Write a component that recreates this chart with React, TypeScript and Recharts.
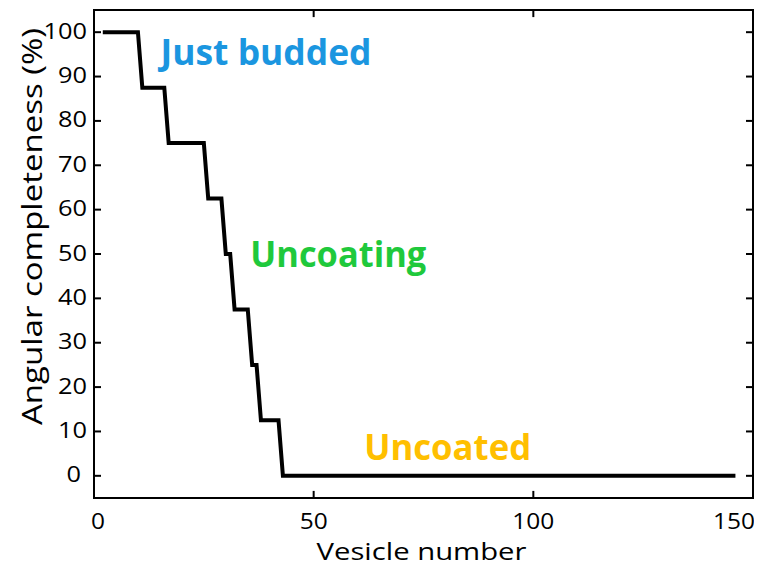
import React from "react";
import {
  LineChart,
  Line,
  XAxis,
  YAxis,
  ReferenceArea,
  ReferenceLine,
  ReferenceDot,
} from "recharts";

// Coat completeness per vesicle, stored as runs: each run starts at a vesicle
// number and holds one completeness level until the next run begins.
const runStartVesicle = [2, 11, 17, 26, 30, 32, 36, 38, 43];
const runCompleteness = [100, 87.5, 75, 62.5, 50, 37.5, 25, 12.5, 0];
const lastVesicle = 146;

const xTicks = [0, 50, 100, 150];
const yTicks = [0, 10, 20, 30, 40, 50, 60, 70, 80, 90, 100];
const xDomain: [number, number] = [0, 150];
const yDomain: [number, number] = [-5, 105];

const stageNames = ["Just budded", "Uncoating", "Uncoated"];
const stageVesicle = [39.15, 55.6, 80.5];
const stageCompleteness = [95.4, 49.9, 6.45];
const stageColors = ["#1b96e0", "#1fc93c", "#ffbf00"];
const stageWidths = [211, 176, 167];

const data: { vesicle: number; completeness: number }[] = [];
for (let v = runStartVesicle[0]; v <= lastVesicle; v++) {
  let run = 0;
  for (let i = 0; i < runStartVesicle.length; i++) {
    if (runStartVesicle[i] <= v) run = i;
  }
  data.push({ vesicle: v, completeness: runCompleteness[run] });
}

const FONT = "'Open Sans', 'Noto Sans', sans-serif";
const TICK_LEN_X = 1.6; // inward tick length in vesicle units
const TICK_LEN_Y = 1.6; // inward tick length in percent units

const XTick = (props: any) => {
  const { x, y, payload } = props;
  const v = payload.value;
  const s = String(v);
  let shift = 0;
  if (v === xDomain[0]) shift = 4;
  if (v === xDomain[1]) shift = -19;
  return (
    <text
      x={x + shift}
      y={y + 23.3}
      textAnchor="middle"
      fontFamily={FONT}
      fontSize={21}
      fill="#000"
      textLength={s.length * 14}
      lengthAdjust="spacingAndGlyphs"
    >
      {s}
    </text>
  );
};

const YTick = (props: any) => {
  const { y, payload } = props;
  const v = payload.value;
  const s = String(v);
  const right = v === 0 ? 73 : 79;
  return (
    <text
      x={right}
      y={y + 6.5}
      textAnchor="end"
      fontFamily={FONT}
      fontSize={21}
      fill="#000"
      textLength={s.length * 14.5}
      lengthAdjust="spacingAndGlyphs"
    >
      {s}
    </text>
  );
};

const XTitle = (props: any) => {
  const vb = props.viewBox;
  return (
    <text
      x={vb.x + vb.width / 2 - 2}
      y={vb.y + 61.8}
      textAnchor="middle"
      fontFamily={FONT}
      fontSize={24}
      fill="#000"
      textLength={210}
      lengthAdjust="spacingAndGlyphs"
    >
      Vesicle number
    </text>
  );
};

const YTitle = (props: any) => {
  const vb = props.viewBox;
  const cx = 33.5;
  const cy = vb.y + 216.5;
  return (
    <text
      x={cx}
      y={cy}
      transform={`rotate(-90 ${cx} ${cy})`}
      textAnchor="middle"
      fontFamily={FONT}
      fontSize={28}
      fill="#000"
      textLength={397}
      lengthAdjust="spacingAndGlyphs"
    >
      Angular completeness (%)
    </text>
  );
};

const stageLabel = (i: number) => (props: any) => {
  const vb = props.viewBox;
  const cx = vb.x + (vb.width || 0) / 2;
  const cy = vb.y + (vb.height || 0) / 2;
  return (
    <text
      x={cx}
      y={cy}
      dy="0.357em"
      textAnchor="middle"
      fontFamily={FONT}
      fontWeight={700}
      fontSize={35}
      fill={stageColors[i]}
      textLength={stageWidths[i]}
      lengthAdjust="spacingAndGlyphs"
    >
      {stageNames[i]}
    </text>
  );
};

export default function App() {
  const innerX = xTicks.filter((t) => t > xDomain[0] && t < xDomain[1]);
  const innerY = yTicks.filter((t) => t > yDomain[0] && t < yDomain[1]);
  return (
    <div style={{ width: 754, height: 566 }}>
      <LineChart
        width={754}
        height={566}
        data={data}
        margin={{ top: 2, right: 9, bottom: 0, left: 0 }}
      >
        <XAxis
          dataKey="vesicle"
          type="number"
          domain={xDomain}
          ticks={xTicks}
          interval={0}
          allowDataOverflow
          height={76}
          axisLine={false}
          tickLine={false}
          tick={(p: any) => <XTick {...p} />}
          label={{ content: (p: any) => <XTitle {...p} /> }}
        />
        <YAxis
          type="number"
          domain={yDomain}
          ticks={yTicks}
          interval={0}
          allowDataOverflow
          width={86}
          axisLine={false}
          tickLine={false}
          tick={(p: any) => <YTick {...p} />}
          label={{ content: (p: any) => <YTitle {...p} /> }}
        />

        {/* inward tick marks on all four sides of the box */}
        {innerX.map((t) => (
          <ReferenceLine
            key={`xb${t}`}
            segment={[
              { x: t, y: yDomain[0] },
              { x: t, y: yDomain[0] + TICK_LEN_Y },
            ]}
            stroke="#000"
            strokeWidth={2}
          />
        ))}
        {innerX.map((t) => (
          <ReferenceLine
            key={`xt${t}`}
            segment={[
              { x: t, y: yDomain[1] },
              { x: t, y: yDomain[1] - TICK_LEN_Y },
            ]}
            stroke="#000"
            strokeWidth={2}
          />
        ))}
        {innerY.map((t) => (
          <ReferenceLine
            key={`yl${t}`}
            segment={[
              { x: xDomain[0], y: t },
              { x: xDomain[0] + TICK_LEN_X, y: t },
            ]}
            stroke="#000"
            strokeWidth={2}
          />
        ))}
        {innerY.map((t) => (
          <ReferenceLine
            key={`yr${t}`}
            segment={[
              { x: xDomain[1], y: t },
              { x: xDomain[1] - TICK_LEN_X, y: t },
            ]}
            stroke="#000"
            strokeWidth={2}
          />
        ))}

        <Line
          type="linear"
          dataKey="completeness"
          stroke="#000"
          strokeWidth={4}
          dot={false}
          activeDot={false}
          isAnimationActive={false}
        />

        {/* box frame */}
        <ReferenceArea
          x1={xDomain[0]}
          x2={xDomain[1]}
          y1={yDomain[0]}
          y2={yDomain[1]}
          fill="none"
          fillOpacity={0}
          stroke="#000"
          strokeWidth={2}
        />

        {stageNames.map((name, i) => (
          <ReferenceDot
            key={name}
            x={stageVesicle[i]}
            y={stageCompleteness[i]}
            r={1}
            fill="none"
            stroke="none"
            label={{ content: stageLabel(i) }}
          />
        ))}
      </LineChart>
    </div>
  );
}
